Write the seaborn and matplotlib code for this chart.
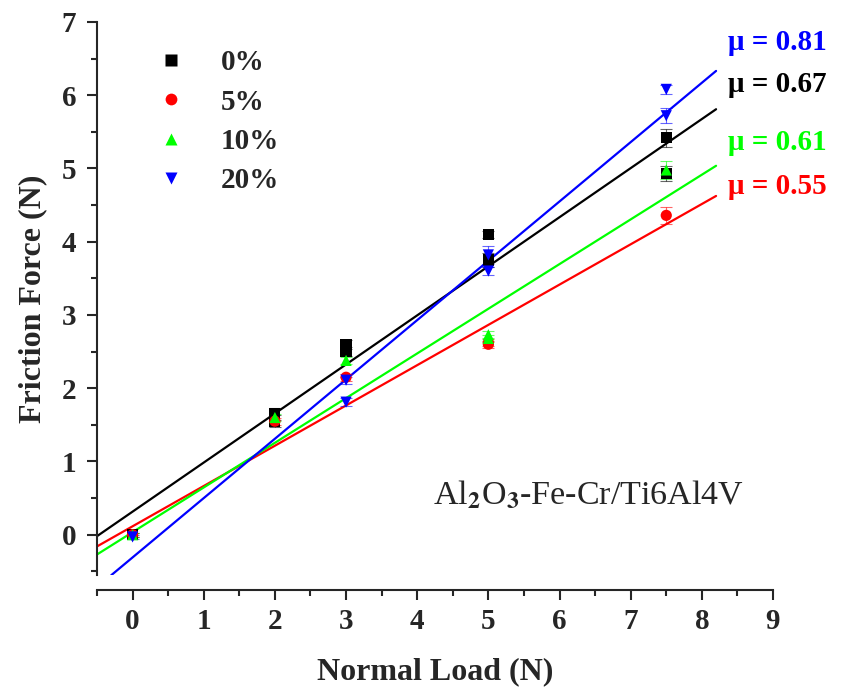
import numpy as np
import pandas as pd
import matplotlib
matplotlib.use("Agg")
import matplotlib.pyplot as plt
import seaborn as sns
from matplotlib.ticker import MultipleLocator

# ---- data ----
series = ["0%", "5%", "10%", "20%"]
colors = ["#000000", "#ff0000", "#00ff00", "#0000ff"]
markers = ["s", "o", "^", "v"]

load_0 = [0, 2, 2, 3, 3, 5, 5, 7.5, 7.5]
force_0 = [0.0, 1.65, 1.55, 2.6, 2.5, 4.1, 3.75, 5.42, 4.93]
err_0 = [0.03, 0.08, 0.08, 0.06, 0.06, 0.05, 0.1, 0.12, 0.1]

load_5 = [0, 2, 3, 5, 5, 7.5]
force_5 = [0.0, 1.55, 2.15, 2.6, 2.62, 4.36]
err_5 = [0.03, 0.05, 0.05, 0.05, 0.05, 0.12]

load_10 = [0, 2, 3, 5, 5, 7.5]
force_10 = [0.0, 1.6, 2.38, 2.73, 2.68, 4.98]
err_10 = [0.03, 0.05, 0.05, 0.05, 0.05, 0.12]

load_20 = [0, 3, 3, 5, 5, 7.5, 7.5]
force_20 = [-0.03, 2.11, 1.81, 3.82, 3.6, 6.08, 5.72]
err_20 = [0.03, 0.05, 0.05, 0.12, 0.05, 0.06, 0.1]

# linear fits (slope = friction coefficient, intercept)
mu = [0.67, 0.55, 0.61, 0.81]
intercept = [0.315, 0.115, 0.035, -0.31]
fit_start = [-0.5, -0.5, -0.5, -0.3]
fit_end = [8.2, 8.2, 8.2, 8.2]
mu_labels = ["μ = 0.67", "μ = 0.55", "μ = 0.61", "μ = 0.81"]
mu_label_y = [6.14, 4.75, 5.35, 6.72]

x_ticks = list(range(0, 10))
y_ticks = list(range(0, 8))

loads = [load_0, load_5, load_10, load_20]
forces = [force_0, force_5, force_10, force_20]
errs = [err_0, err_5, err_10, err_20]

df = pd.concat([
    pd.DataFrame({"Load": l, "Force": f, "Err": e, "Series": s})
    for l, f, e, s in zip(loads, forces, errs, series)
], ignore_index=True)

sns.set_style("ticks")
plt.rcParams["font.family"] = ["Liberation Serif", "DejaVu Serif"]
plt.rcParams["font.weight"] = "bold"

fig = plt.figure(figsize=(8.43, 6.9), dpi=100)
ax = fig.add_axes([97 / 843, 1 - 575 / 690, (773 - 97) / 843, (575 - 22) / 690])

# fit lines
for s, c, m, b, x0, x1 in zip(series, colors, mu, intercept, fit_start, fit_end):
    xs = np.array([x0, x1])
    sns.lineplot(x=xs, y=m * xs + b, color=c, lw=1.6, ax=ax, legend=False)

# error bars
for s, c in zip(series, colors):
    d = df[df.Series == s]
    ax.errorbar(d.Load, d.Force, yerr=d.Err, fmt="none", ecolor=c, elinewidth=0.8,
                capsize=4, capthick=0.8, alpha=0.6, zorder=2)

sns.scatterplot(data=df, x="Load", y="Force", hue="Series", style="Series",
                palette=dict(zip(series, colors)), markers=dict(zip(series, markers)),
                hue_order=series, style_order=series,
                s=65, edgecolor="none", ax=ax, zorder=3)

leg = ax.legend(loc="upper left", bbox_to_anchor=(0.028, 0.998), frameon=False,
                prop={"family": "Liberation Serif", "weight": "bold", "size": 21},
                handletextpad=0.7, labelspacing=0.42, markerscale=1.05)

for lab, c, y in zip(mu_labels, colors, mu_label_y):
    ax.text(8.37, y, lab, color=c, fontsize=21, fontweight="bold", ha="left",
            va="center", clip_on=False)

ax.text(4.22, 0.55, "Al$_2$O$_3$-Fe-Cr/Ti6Al4V", fontsize=24.5, fontweight="normal",
        ha="left", va="center", math_fontfamily="stix")

ax.set_xlim(-0.5, 9)
ax.set_ylim(-0.55, 7)
ax.set_xticks(x_ticks)
ax.set_yticks(y_ticks)
ax.xaxis.set_minor_locator(MultipleLocator(0.5))
ax.yaxis.set_minor_locator(MultipleLocator(0.5))
ax.tick_params(which="major", length=7, width=1.5, labelsize=21, direction="out")
ax.tick_params(which="minor", length=4, width=1.5, direction="out")
for lbl in ax.get_xticklabels() + ax.get_yticklabels():
    lbl.set_fontweight("bold")
ax.tick_params(axis="x", pad=6)
ax.tick_params(axis="y", pad=8)

ax.spines["top"].set_visible(False)
ax.spines["right"].set_visible(False)
ax.spines["left"].set_linewidth(1.5)
ax.spines["bottom"].set_linewidth(1.5)
ax.spines["bottom"].set_position(("outward", 10.8))

ax.set_xlabel("Normal Load (N)", fontsize=23, fontweight="bold", labelpad=16)
ax.set_ylabel("Friction Force (N)", fontsize=23, fontweight="bold", labelpad=10)

fig.savefig("out.png", dpi=100)
